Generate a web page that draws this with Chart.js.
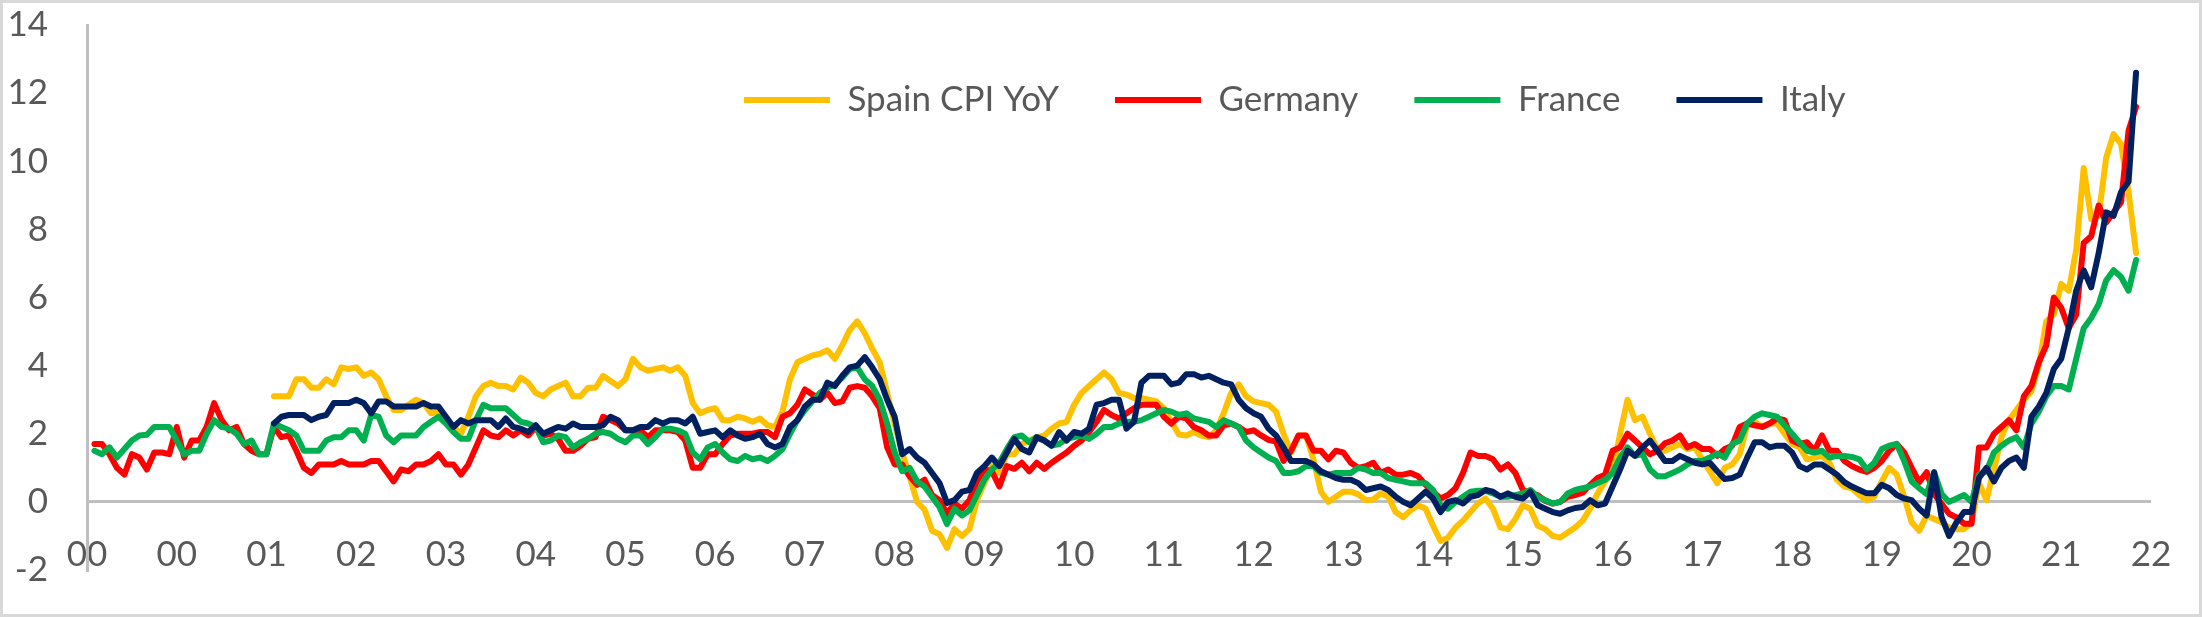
<!DOCTYPE html>
<html>
<head>
<meta charset="utf-8">
<title>CPI YoY</title>
<script src="https://cdn.jsdelivr.net/npm/chart.js@4.4.1/dist/chart.umd.min.js"></script>
<style>
  html, body { margin: 0; padding: 0; background: #fff; }
  #frame { width: 2202px; height: 617px; box-sizing: border-box; border: 3px solid #d9d9d9; background: #fff; }
  canvas { display: block; }
</style>
</head>
<body>
<div id="frame"><canvas id="cpiChart" width="2196" height="611"></canvas></div>
<script>
// monthly points, index 0 = Dec 1999, axis runs to index 276 (Dec 2022)
const monthCount = 277;
const monthNames = ["Jan","Feb","Mar","Apr","May","Jun","Jul","Aug","Sep","Oct","Nov","Dec"];
const months = [];
for (let i = 0; i < monthCount; i++) {
  const m = (11 + i) % 12;
  const y = 1999 + Math.floor((11 + i) / 12);
  months.push(monthNames[m] + " " + y);
}

// one label every 12 months
const tickLabels = ["00","00","01","02","03","04","05","06","07","08","09","10",
                    "11","12","13","14","15","16","17","18","19","20","21","22"];

const germany = [
  null,1.7,1.7,1.4,1.0,0.8,1.4,1.3,0.95,1.45,1.45,1.4,
  2.2,1.3,1.8,1.8,2.2,2.9,2.4,2.1,2.2,1.7,1.5,1.4,
  1.4,2.2,1.9,1.95,1.5,1.0,0.85,1.1,1.1,1.1,1.2,1.1,
  1.1,1.1,1.2,1.2,0.9,0.6,0.95,0.9,1.1,1.1,1.2,1.4,
  1.1,1.1,0.8,1.1,1.6,2.1,1.95,1.9,2.1,1.95,2.1,1.95,
  2.2,1.95,2.0,1.85,1.5,1.5,1.65,1.85,1.9,2.5,2.4,2.3,
  2.1,2.1,2.1,1.9,2.1,2.1,2.1,2.05,1.8,1.0,1.0,1.4,
  1.4,1.7,1.95,2.0,2.0,2.0,2.05,2.05,1.9,2.5,2.6,2.85,
  3.3,3.15,3.0,3.2,2.9,2.95,3.35,3.4,3.35,3.1,2.75,1.6,
  1.1,1.1,0.75,0.5,0.65,0.2,0.05,-0.35,-0.05,-0.2,0.05,0.6,
  0.95,0.9,0.45,1.05,0.97,1.15,0.9,1.15,0.97,1.15,1.3,1.45,
  1.65,1.8,2.05,2.35,2.7,2.55,2.45,2.6,2.75,2.85,2.85,2.85,
  2.5,2.3,2.5,2.45,2.2,2.1,1.95,1.95,2.25,2.3,2.2,2.05,
  2.1,1.95,1.82,1.77,1.2,1.5,1.95,1.95,1.5,1.5,1.25,1.5,
  1.45,1.15,1.0,1.05,1.15,0.85,0.95,0.8,0.8,0.85,0.75,0.5,
  0.3,0.1,0.2,0.4,0.85,1.45,1.35,1.35,1.25,0.95,1.1,0.85,
  0.35,0.25,0.2,0.03,-0.05,0.0,0.15,0.2,0.27,0.5,0.7,0.8,
  1.5,1.6,2.0,1.8,1.6,1.4,1.5,1.72,1.8,1.95,1.6,1.7,
  1.55,1.55,1.35,1.55,1.65,2.2,2.3,2.25,2.2,2.3,2.45,2.4,
  1.8,1.7,1.75,1.5,1.95,1.5,1.5,1.2,1.05,0.95,0.88,1.0,
  1.2,1.5,1.7,1.45,1.0,0.58,0.87,0.23,-0.06,-0.35,-0.46,-0.64,
  -0.64,1.6,1.6,2.0,2.2,2.4,2.1,3.1,3.4,4.1,4.6,6.0,
  5.7,5.1,5.5,7.6,7.8,8.7,8.2,8.5,8.8,10.9,11.6
];

const france = [
  null,1.5,1.4,1.6,1.3,1.55,1.8,1.95,1.97,2.2,2.2,2.2,
  1.8,1.4,1.5,1.5,2.0,2.4,2.2,2.15,2.0,1.7,1.8,1.4,
  1.4,2.3,2.2,2.1,1.95,1.5,1.5,1.5,1.8,1.9,1.9,2.1,
  2.1,1.8,2.55,2.5,1.95,1.75,1.95,1.95,1.95,2.2,2.35,2.5,
  2.3,2.05,1.85,1.85,2.4,2.85,2.75,2.75,2.75,2.55,2.35,2.3,
  2.2,1.75,1.8,1.95,1.9,1.6,1.75,1.85,2.0,2.05,2.0,1.85,
  1.75,1.95,1.95,1.7,1.9,2.15,2.15,2.1,2.0,1.45,1.25,1.6,
  1.7,1.45,1.25,1.2,1.35,1.25,1.3,1.2,1.35,1.55,2.0,2.4,
  2.7,2.95,3.2,3.35,3.45,3.65,3.9,3.95,3.6,3.4,3.0,2.3,
  1.45,0.9,1.0,0.6,0.45,0.15,-0.15,-0.65,-0.2,-0.4,-0.25,0.2,
  0.65,0.95,1.15,1.55,1.9,1.95,1.75,1.9,1.8,1.65,1.7,1.85,
  1.9,1.95,1.85,2.0,2.2,2.2,2.3,2.35,2.35,2.4,2.5,2.6,
  2.7,2.65,2.55,2.6,2.45,2.4,2.35,2.2,2.4,2.3,2.2,1.8,
  1.6,1.45,1.3,1.2,0.85,0.85,0.9,1.05,1.05,0.85,0.8,0.85,
  0.85,0.85,1.0,0.95,0.85,0.85,0.7,0.65,0.6,0.55,0.55,0.55,
  0.35,-0.1,-0.2,0.0,0.15,0.3,0.33,0.33,0.25,0.15,0.15,0.2,
  0.25,0.35,0.15,0.05,-0.05,0.0,0.25,0.35,0.4,0.45,0.55,0.65,
  0.85,1.3,1.6,1.35,1.4,0.95,0.75,0.75,0.85,0.95,1.1,1.2,
  1.2,1.3,1.42,1.3,1.7,1.8,2.3,2.5,2.6,2.55,2.5,2.25,
  2.0,1.75,1.5,1.45,1.5,1.3,1.35,1.35,1.32,1.25,0.95,1.15,
  1.55,1.65,1.7,1.2,0.6,0.4,0.23,0.87,0.23,0.0,0.1,0.2,
  0.0,0.8,0.9,1.45,1.65,1.8,1.9,1.6,2.3,2.65,3.1,3.4,
  3.4,3.3,4.2,5.1,5.4,5.8,6.5,6.8,6.6,6.2,7.1
];

// Spain and Italy series start in Jan 2002 (index 25)
const spain = [
  ...Array(25).fill(null),
  3.1,3.1,3.1,3.6,3.6,3.35,3.35,3.6,3.45,3.95,3.9,
  3.95,3.7,3.8,3.6,3.1,2.7,2.7,2.85,3.0,2.9,2.6,2.65,
  2.4,2.2,2.0,2.5,3.1,3.4,3.5,3.4,3.4,3.3,3.65,3.5,
  3.2,3.1,3.3,3.4,3.5,3.1,3.1,3.35,3.35,3.7,3.55,3.4,
  3.6,4.2,3.95,3.85,3.9,3.95,3.85,3.95,3.7,2.9,2.6,2.7,
  2.75,2.4,2.4,2.5,2.45,2.35,2.45,2.25,2.2,2.65,3.6,4.1,
  4.2,4.3,4.35,4.45,4.2,4.6,5.05,5.3,4.95,4.5,4.1,3.2,
  2.3,1.45,0.75,0.0,-0.23,-0.85,-0.95,-1.35,-0.8,-1.0,-0.8,0.05,
  0.55,1.05,0.85,1.4,1.4,1.7,1.8,1.9,1.95,2.15,2.3,2.35,
  2.85,3.2,3.4,3.6,3.8,3.6,3.2,3.15,3.05,3.05,3.0,2.95,
  2.75,2.35,1.98,1.95,2.05,1.95,1.9,2.1,2.6,3.2,3.45,3.1,
  2.95,2.9,2.85,2.65,2.0,1.45,1.95,1.95,1.25,0.3,0.0,0.15,
  0.3,0.3,0.22,0.05,0.07,0.25,0.15,-0.3,-0.45,-0.25,-0.1,-0.2,
  -0.7,-1.15,-1.05,-0.75,-0.55,-0.3,-0.05,0.1,-0.2,-0.75,-0.8,-0.5,
  -0.1,-0.2,-0.7,-0.8,-1.0,-1.05,-0.9,-0.75,-0.55,-0.2,0.25,0.6,
  0.85,2.0,3.0,2.4,2.5,2.0,1.55,1.5,1.6,1.7,1.55,1.6,
  1.25,0.9,0.55,1.0,1.1,1.4,2.25,2.35,2.2,2.3,2.3,2.0,
  1.7,1.6,1.25,1.3,1.35,1.15,0.65,0.45,0.4,0.2,0.05,0.15,
  0.6,1.0,0.8,0.15,-0.6,-0.85,-0.4,-0.5,-0.6,-0.75,-0.8,-0.8,
  -0.6,0.55,0.05,0.95,1.9,2.4,2.7,3.0,3.25,4.0,5.3,5.5,
  6.4,6.2,7.4,9.8,8.3,8.4,10.1,10.8,10.5,9.1,7.3
];

const italy = [
  ...Array(25).fill(null),
  2.3,2.5,2.55,2.55,2.55,2.4,2.5,2.55,2.9,2.9,2.9,
  3.0,2.9,2.6,2.95,2.95,2.8,2.8,2.8,2.8,2.9,2.8,2.8,
  2.5,2.2,2.4,2.3,2.4,2.4,2.4,2.2,2.45,2.2,2.15,2.05,
  2.25,2.0,2.1,2.2,2.15,2.3,2.2,2.2,2.2,2.25,2.5,2.4,
  2.1,2.1,2.2,2.2,2.4,2.3,2.4,2.4,2.3,2.5,2.0,2.05,
  2.1,1.9,2.1,1.95,1.85,1.9,2.0,1.7,1.6,1.7,2.2,2.4,
  2.8,3.0,3.0,3.5,3.4,3.7,3.95,4.0,4.25,3.95,3.6,3.0,
  2.5,1.4,1.55,1.3,1.15,0.85,0.55,-0.03,0.05,0.3,0.35,0.85,
  1.05,1.3,1.05,1.45,1.85,1.55,1.45,1.9,1.8,1.65,2.05,1.8,
  2.05,2.0,2.15,2.85,2.9,3.0,3.0,2.15,2.35,3.5,3.7,3.7,
  3.7,3.45,3.5,3.75,3.75,3.65,3.7,3.6,3.5,3.45,3.0,2.75,
  2.6,2.5,2.15,1.95,1.6,1.2,1.2,1.2,1.1,0.9,0.8,0.7,
  0.65,0.65,0.55,0.35,0.4,0.45,0.35,0.15,0.0,-0.1,0.1,0.3,
  0.1,-0.3,0.0,0.05,-0.05,0.15,0.2,0.35,0.3,0.15,0.25,0.15,
  0.1,0.3,-0.1,-0.2,-0.3,-0.35,-0.25,-0.18,-0.15,0.05,-0.1,-0.05,
  0.45,0.95,1.5,1.35,1.6,1.8,1.5,1.2,1.2,1.35,1.25,1.15,
  1.1,1.15,0.9,0.67,0.7,0.8,1.3,1.75,1.75,1.6,1.65,1.65,
  1.45,1.05,0.95,1.1,1.1,0.95,0.8,0.58,0.45,0.35,0.25,0.25,
  0.5,0.4,0.2,0.1,0.05,-0.2,-0.4,0.87,-0.45,-1.0,-0.6,-0.3,
  -0.3,0.7,1.0,0.6,1.0,1.2,1.3,1.0,2.5,2.8,3.2,3.9,
  4.2,5.1,6.2,6.8,6.3,7.3,8.5,8.4,9.1,9.4,12.6
];

const textColor = "#595959";
const axisColor = "#bfbfbf";
const baseFont = { family: "Lato, 'Open Sans', sans-serif", size: 35 };

// legend sits inside the plot, like the original
const legendLeft = 741;
const legendMiddle = 97;

const legendPlacer = {
  id: "legendPlacer",
  afterLayout(chart) {
    const lg = chart.legend;
    if (!lg) return;
    const pad = lg.options.labels.padding;
    const half = lg.options.labels.font.size / 2;
    lg.left = legendLeft - pad;
    lg.right = lg.left + 1500;
    lg.width = 1500;
    lg.top = legendMiddle - half - pad;
    lg.bottom = lg.top + 200;
    lg.height = 200;
  }
};

function makeSeries(label, data, color, order) {
  return {
    label: label,
    data: data,
    borderColor: color,
    backgroundColor: color,
    borderWidth: 6,
    borderJoinStyle: "round",
    borderCapStyle: "round",
    pointRadius: 0,
    pointHoverRadius: 0,
    tension: 0,
    fill: false,
    order: order
  };
}

const ctx = document.getElementById("cpiChart").getContext("2d");

new Chart(ctx, {
  type: "line",
  data: {
    labels: months,
    datasets: [
      makeSeries("Spain CPI YoY", spain, "#FFC000", 4),
      makeSeries("Germany", germany, "#FF0000", 3),
      makeSeries("France", france, "#00B050", 2),
      makeSeries("Italy", italy, "#002060", 1)
    ]
  },
  options: {
    responsive: false,
    devicePixelRatio: 1,
    animation: false,
    layout: { padding: { left: 0, right: 48, top: 22, bottom: 0 } },
    plugins: {
      tooltip: { enabled: false },
      legend: {
        position: "top",
        align: "start",
        maxHeight: 0.01,
        labels: {
          usePointStyle: true,
          pointStyle: "line",
          pointStyleWidth: 86,
          boxWidth: 86,
          padding: 56,
          color: textColor,
          font: baseFont,
          sort: (a, b) => a.datasetIndex - b.datasetIndex
        }
      }
    },
    scales: {
      x: {
        type: "category",
        offset: false,
        afterFit: (scale) => {
          scale.height = 44;
          scale.paddingLeft = 0;
          scale.paddingRight = 0;
        },
        grid: { display: false, drawTicks: false },
        border: { display: false },
        ticks: {
          autoSkip: false,
          maxRotation: 0,
          minRotation: 0,
          mirror: true,
          padding: -6,
          color: textColor,
          font: baseFont,
          callback: function(value, index) {
            return index % 12 === 0 ? tickLabels[index / 12] : null;
          }
        }
      },
      y: {
        min: -2,
        max: 14,
        afterFit: (scale) => {
          scale.width = 84;
          scale.paddingTop = 0;
          scale.paddingBottom = 0;
        },
        grid: {
          drawTicks: false,
          lineWidth: 3,
          color: (c) => (c.tick && c.tick.value === 0 ? axisColor : "rgba(0,0,0,0)")
        },
        border: { display: true, color: axisColor, width: 3 },
        ticks: {
          stepSize: 2,
          padding: 39,
          color: textColor,
          font: baseFont
        }
      }
    }
  },
  plugins: [legendPlacer]
});
</script>
</body>
</html>
